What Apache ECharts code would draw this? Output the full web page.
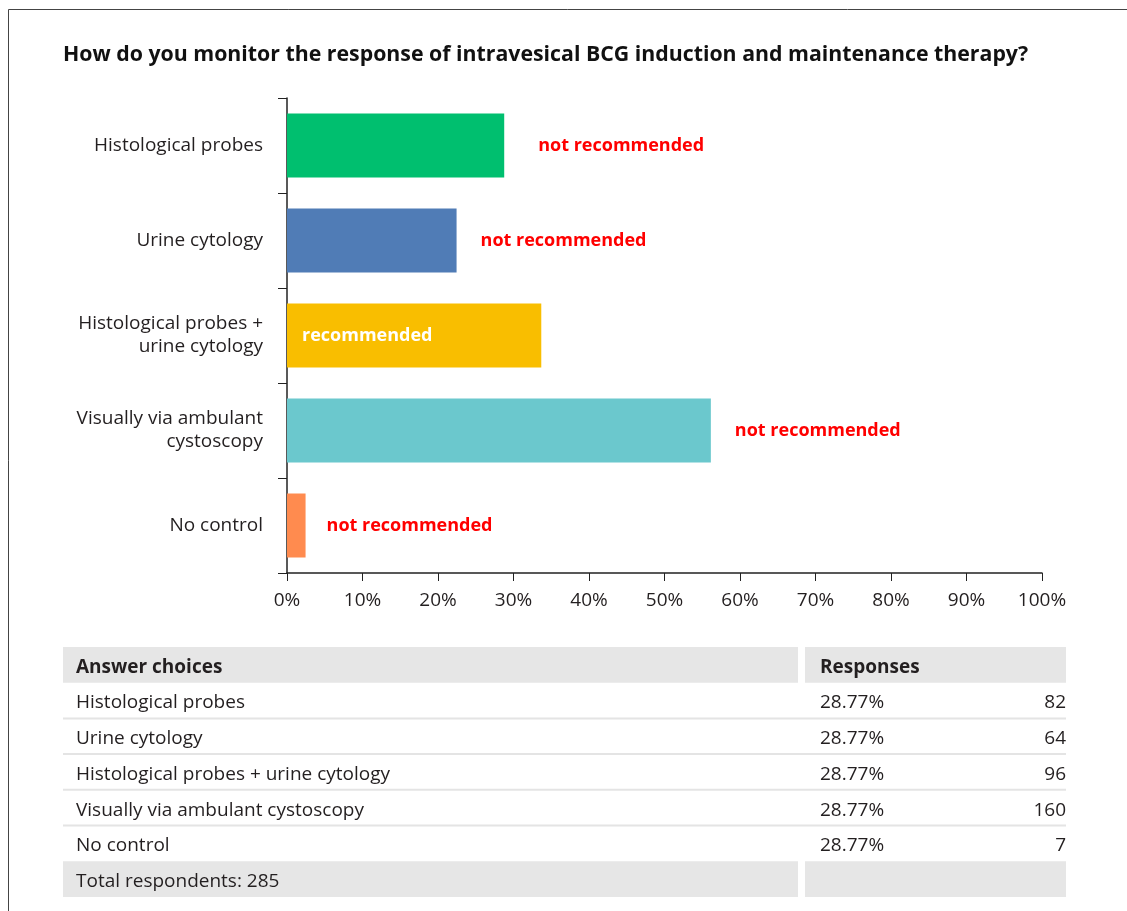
<!DOCTYPE html>
<html>
<head>
<meta charset="utf-8">
<title>BCG therapy monitoring</title>
<script src="https://cdn.jsdelivr.net/npm/echarts@6/dist/echarts.min.js"></script>
<style>
  html, body { margin: 0; padding: 0; background: #fff; }
  #chart { width: 1127px; height: 911px; }
</style>
</head>
<body>
<div id="chart"></div>
<script>
// Survey answers, shown top to bottom
const categories = [
  'Histological probes',
  'Urine cytology',
  'Histological probes +\nurine cytology',
  'Visually via ambulant\ncystoscopy',
  'No control'
];
const tableChoices = [
  'Histological probes',
  'Urine cytology',
  'Histological probes + urine cytology',
  'Visually via ambulant cystoscopy',
  'No control'
];
// Response counts and their share of respondents (%)
const responses = [82, 64, 96, 160, 7];
const shares = [28.77, 22.46, 33.68, 56.14, 2.46];
const tablePercents = ['28.77%', '28.77%', '28.77%', '28.77%', '28.77%'];
const totalRespondents = 285;
const verdicts = ['not recommended', 'not recommended', 'recommended', 'not recommended', 'not recommended'];
const xTicks = [0, 10, 20, 30, 40, 50, 60, 70, 80, 90, 100];

const titleText = 'How do you monitor the response of intravesical BCG induction and maintenance therapy?';

// Styling
const FONT = '"Open Sans", "Noto Sans", sans-serif';
const TEXT = '#231f20';
const barColors = ['#00bf6f', '#507cb6', '#f9be00', '#6bc8cd', '#ff8b4f'];
const labelGap = [34, 24, 15, 24, 21];

const chart = echarts.init(document.getElementById('chart'), null, { renderer: 'canvas' });

// Results table drawn underneath the chart
const tbl = { x: 63, colSplit: 798, col2: 805, right: 1066, top: 647, rowH: 35.7 };
const graphics = [];
// outer frame
graphics.push({ type: 'line', shape: { x1: 8.5, y1: 9.5, x2: 1127, y2: 9.5 }, style: { stroke: '#444', lineWidth: 1 } });
graphics.push({ type: 'line', shape: { x1: 8.5, y1: 9.5, x2: 8.5, y2: 911 }, style: { stroke: '#444', lineWidth: 1 } });

function grayRow(y) {
  graphics.push({ type: 'rect', shape: { x: tbl.x, y: y, width: tbl.colSplit - tbl.x, height: tbl.rowH }, style: { fill: '#e6e6e6' } });
  graphics.push({ type: 'rect', shape: { x: tbl.col2, y: y, width: tbl.right - tbl.col2, height: tbl.rowH }, style: { fill: '#e6e6e6' } });
}
function cellText(x, y, text, bold, align) {
  graphics.push({
    type: 'text', x: x, y: y + 2.5,
    style: { text: text, fill: TEXT, font: (bold ? 'bold ' : '') + '19px ' + FONT, textAlign: align || 'left', textVerticalAlign: 'middle' }
  });
}
grayRow(tbl.top);
cellText(76, tbl.top + tbl.rowH / 2, 'Answer choices', true);
cellText(820, tbl.top + tbl.rowH / 2, 'Responses', true);
tableChoices.forEach(function (name, i) {
  const y = tbl.top + tbl.rowH * (i + 1);
  cellText(76, y + tbl.rowH / 2, name, false);
  cellText(820, y + tbl.rowH / 2, tablePercents[i], false);
  cellText(tbl.right, y + tbl.rowH / 2, String(responses[i]), false, 'right');
  if (i < tableChoices.length - 1) {
    graphics.push({ type: 'rect', shape: { x: tbl.x, y: y + tbl.rowH - 1, width: tbl.right - tbl.x, height: 2 }, style: { fill: '#e4e4e4' } });
  }
});
const footY = tbl.top + tbl.rowH * (tableChoices.length + 1);
grayRow(footY);
cellText(76, footY + tbl.rowH / 2, 'Total respondents: ' + totalRespondents, false);

const option = {
  animation: false,
  backgroundColor: '#fff',
  title: {
    text: titleText,
    left: 63, top: 44, padding: 0,
    textStyle: { fontFamily: FONT, fontWeight: 'bold', fontSize: 21.3, color: '#111' }
  },
  grid: { left: 287, top: 98, width: 755, height: 475, containLabel: false },
  xAxis: {
    type: 'value', min: 0, max: 100, interval: 10,
    axisLine: { show: true, lineStyle: { color: '#222', width: 1.5 } },
    axisTick: { show: true, length: 8, lineStyle: { color: '#222' } },
    axisLabel: {
      margin: 18, fontFamily: FONT, fontSize: 19, color: TEXT,
      formatter: function (v) { return xTicks.indexOf(v) >= 0 ? v + '%' : ''; }
    },
    splitLine: { show: false }
  },
  yAxis: {
    type: 'category', inverse: true, data: categories,
    axisLine: { show: true, lineStyle: { color: '#222', width: 1.5 } },
    axisTick: { show: true, length: 9, lineStyle: { color: '#222' } },
    axisLabel: { margin: 24, fontFamily: FONT, fontSize: 19, color: TEXT, lineHeight: 23, align: 'right' }
  },
  series: [{
    type: 'bar',
    barWidth: 64,
    z: 1,
    data: shares.map(function (v, i) {
      const inside = verdicts[i] === 'recommended';
      return {
        value: v,
        itemStyle: { color: barColors[i] },
        label: {
          show: true,
          position: inside ? 'insideLeft' : 'right',
          distance: labelGap[i],
          formatter: verdicts[i],
          fontFamily: FONT, fontSize: 18, fontWeight: 'bold',
          color: inside ? '#fff' : '#ff0000'
        }
      };
    })
  }],
  graphic: graphics
};
chart.setOption(option);
</script>
</body>
</html>
